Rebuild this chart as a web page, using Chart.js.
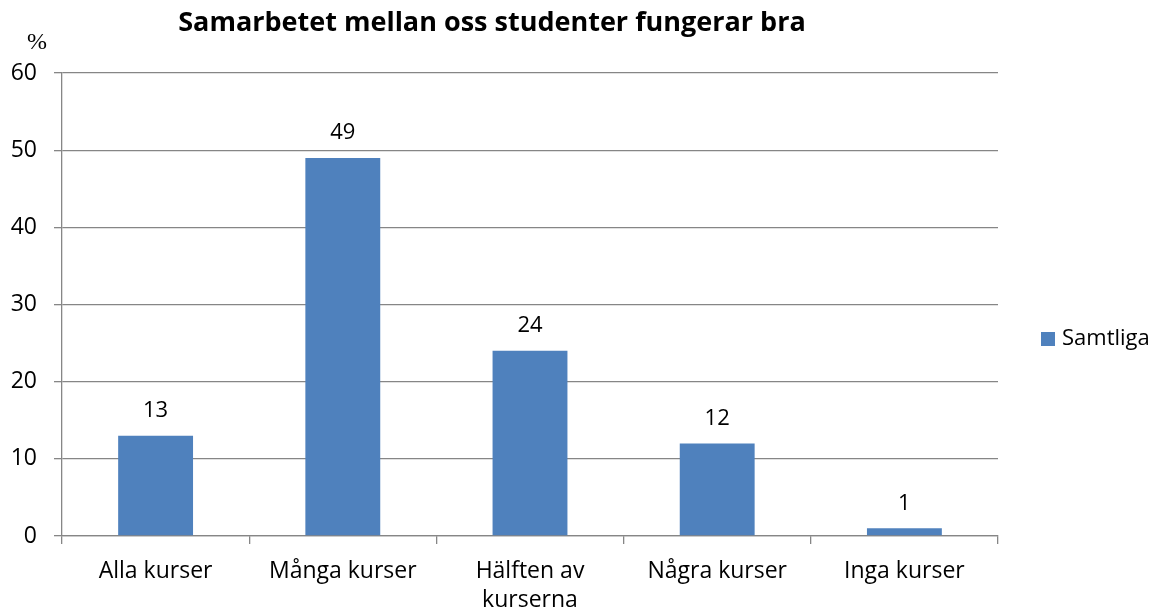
<!DOCTYPE html>
<html>
<head>
<meta charset="utf-8">
<script src="https://cdn.jsdelivr.net/npm/chart.js@4"></script>
<style>
  html, body { margin: 0; padding: 0; background: #fff; }
  #wrap { width: 1159px; height: 614px; position: relative; }
</style>
</head>
<body>
<div id="wrap"><canvas id="myChart"></canvas></div>
<script>
const categories = ['Alla kurser', 'Många kurser', ['Hälften av', 'kurserna'], 'Några kurser', 'Inga kurser'];
const samtliga = [13, 49, 24, 12, 1];
const yTicks = [0, 10, 20, 30, 40, 50, 60];

const FONT = '"Open Sans", Lato, sans-serif';
const GRID = '#868686';
const BLUE = '#4F81BD';

// title, unit, value labels and legend drawn on the canvas
const extras = {
  id: 'extras',
  afterDatasetsDraw(chart) {
    const c = chart.ctx;
    c.save();
    c.fillStyle = '#000';
    c.textAlign = 'center';
    c.textBaseline = 'middle';
    c.font = 'bold 27px ' + FONT;
    c.fillText('Samarbetet mellan oss studenter fungerar bra', 492, 23);

    c.font = '24px "Liberation Serif", serif';
    c.fillText('%', 37, 43);

    c.font = '22px ' + FONT;
    const meta = chart.getDatasetMeta(0);
    meta.data.forEach((bar, i) => {
      c.fillText(String(samtliga[i]), bar.x, bar.y - 25);
    });

    c.fillStyle = BLUE;
    c.fillRect(1041, 332, 14, 14);
    c.fillStyle = '#000';
    c.textAlign = 'left';
    c.fillText('Samtliga', 1062, 339);
    c.restore();
  }
};

const ctx = document.getElementById('myChart').getContext('2d');
const myChart = new Chart(ctx, {
  type: 'bar',
  data: {
    labels: categories,
    datasets: [{
      label: 'Samtliga',
      data: samtliga,
      backgroundColor: BLUE,
      borderWidth: 0,
      categoryPercentage: 1,
      barPercentage: 0.4
    }]
  },
  options: {
    responsive: true,
    maintainAspectRatio: false,
    animation: false,
    layout: { padding: { top: 73, right: 161, left: 0, bottom: 0 } },
    plugins: {
      legend: { display: false },
      title: { display: false },
      tooltip: { enabled: false }
    },
    scales: {
      x: {
        grid: { offset: true, drawOnChartArea: false, drawTicks: true, tickLength: 8, color: GRID, lineWidth: 1.3 },
        border: { color: GRID, width: 1.3 },
        ticks: { color: '#000', font: { family: FONT, size: 23, lineHeight: 1.27 }, padding: 13, maxRotation: 0, autoSkip: false },
        afterFit(scale) { scale.height = 78; }
      },
      y: {
        min: 0,
        max: 60,
        afterBuildTicks(scale) { scale.ticks = yTicks.map(v => ({ value: v })); },
        grid: { color: GRID, lineWidth: 1.3, tickLength: 8 },
        border: { color: GRID, width: 1.3 },
        ticks: { color: '#000', font: { family: FONT, size: 23 }, padding: 17 },
        afterFit(scale) { scale.width = 62; }
      }
    }
  },
  plugins: [extras]
});
</script>
</body>
</html>
